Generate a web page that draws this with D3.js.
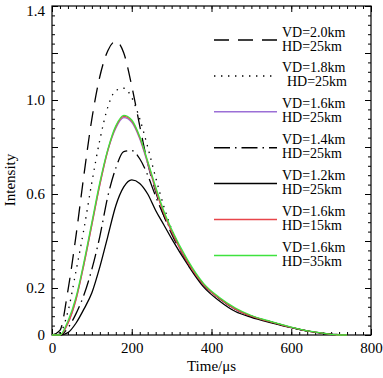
<!DOCTYPE html>
<html>
<head>
<meta charset="utf-8">
<script src="https://cdn.jsdelivr.net/npm/d3@7"></script>
<style>
  body { margin: 0; background: #fff; }
  svg text { font-family: "Liberation Serif", "Times New Roman", Times, serif !important; }
</style>
</head>
<body>
<div id="chart"></div>
<script>
// time samples (us)
var times = [0, 20, 40, 60, 80, 100, 120, 140, 160, 180, 200, 220, 240, 260, 280, 300,
             340, 380, 420, 460, 500, 550, 600, 650, 700, 720, 740];

// intensities
var vd20 = [0, 0.02, 0.19, 0.42, 0.68, 0.92, 1.10, 1.21, 1.25, 1.20, 1.06, 0.89, 0.73, 0.61, 0.51, 0.43,
            0.31, 0.215, 0.155, 0.11, 0.08, 0.055, 0.032, 0.014, 0.003, 0, 0];
var vd18 = [0, 0.01, 0.10, 0.27, 0.45, 0.65, 0.83, 0.97, 1.04, 1.05, 1.01, 0.92, 0.80, 0.67, 0.55, 0.45,
            0.31, 0.215, 0.155, 0.11, 0.08, 0.055, 0.032, 0.014, 0.003, 0, 0];
var vd16hd25 = [0, 0, 0.05, 0.15, 0.30, 0.47, 0.64, 0.785, 0.88, 0.925, 0.905, 0.835, 0.73, 0.62, 0.52, 0.44,
                0.31, 0.215, 0.155, 0.11, 0.08, 0.055, 0.032, 0.014, 0.003, 0, 0];
var vd14 = [0, 0, 0.03, 0.09, 0.17, 0.28, 0.42, 0.59, 0.71, 0.78, 0.785, 0.75, 0.68, 0.59, 0.51, 0.44,
            0.31, 0.215, 0.155, 0.11, 0.08, 0.055, 0.032, 0.014, 0.003, 0, 0];
var vd12 = [0, 0, 0.01, 0.05, 0.11, 0.18, 0.29, 0.42, 0.55, 0.63, 0.66, 0.645, 0.60, 0.53, 0.47, 0.41,
            0.30, 0.205, 0.145, 0.10, 0.075, 0.052, 0.031, 0.014, 0.004, 0.002, 0];
var vd16hd15 = [0, 0, 0.05, 0.15, 0.30, 0.47, 0.64, 0.785, 0.885, 0.93, 0.91, 0.84, 0.735, 0.62, 0.52, 0.44,
                0.31, 0.215, 0.155, 0.11, 0.08, 0.055, 0.032, 0.014, 0.003, 0, 0];
var vd16hd35 = [0, 0, 0.06, 0.16, 0.31, 0.48, 0.65, 0.79, 0.89, 0.935, 0.915, 0.845, 0.74, 0.63, 0.53, 0.45,
                0.32, 0.22, 0.16, 0.115, 0.083, 0.057, 0.034, 0.015, 0.003, 0, 0];

var seriesVD = ["VD=2.0km", "VD=1.8km", "VD=1.6km", "VD=1.4km", "VD=1.2km", "VD=1.6km", "VD=1.6km"];
var seriesHD = ["HD=25km", "HD=25km", "HD=25km", "HD=25km", "HD=25km", "HD=15km", "HD=35km"];
var seriesVals = [vd20, vd18, vd16hd25, vd14, vd12, vd16hd15, vd16hd35];

var xTicks = [0, 200, 400, 600, 800];
var yTicks = [0, 0.2, 0.4, 0.6, 0.8, 1.0, 1.2, 1.4];
var yTickLabels = ["0", "0.2", "", "0.6", "", "1.0", "", "1.4"];

var styles = [
  {color: "#000", dash: "15,9"},
  {color: "#000", dash: "1.4,5.6"},
  {color: "#9b6fd6", dash: null},
  {color: "#000", dash: "16,5,1.5,5"},
  {color: "#000", dash: null},
  {color: "#e8454a", dash: null},
  {color: "#3fe23f", dash: null}
];

var FONT = "'Liberation Serif', 'Times New Roman', serif";
var W = 383, H = 378;
var margin = {top: 6, right: 12, bottom: 43, left: 52},
    width = W - margin.left - margin.right,
    height = H - margin.top - margin.bottom;

var svg = d3.select("#chart").append("svg")
    .attr("width", W).attr("height", H)
    .attr("font-family", FONT)
  .append("g")
    .attr("transform", "translate(" + margin.left + "," + margin.top + ")");

var x = d3.scaleLinear().domain([0, 800]).range([0, width]);
var y = d3.scaleLinear().domain([0, 1.4]).range([height, 0]);

var minorX = d3.range(0, 801, 20), minorY = d3.range(0, 1.4001, 0.04);

function styleAxis(g) {
  g.attr("font-family", FONT);
  g.select(".domain").remove();
  g.selectAll("line").attr("stroke", "#000").attr("stroke-width", 1);
  g.selectAll("text").attr("font-size", "15px").attr("fill", "#000");
}

// minor ticks, all four sides
svg.append("g").attr("transform", "translate(0," + height + ")")
  .call(d3.axisBottom(x).tickValues(minorX).tickSize(-3).tickFormat("")).call(styleAxis);
svg.append("g")
  .call(d3.axisTop(x).tickValues(minorX).tickSize(-3).tickFormat("")).call(styleAxis);
svg.append("g")
  .call(d3.axisLeft(y).tickValues(minorY).tickSize(-3).tickFormat("")).call(styleAxis);
svg.append("g").attr("transform", "translate(" + width + ",0)")
  .call(d3.axisRight(y).tickValues(minorY).tickSize(-3).tickFormat("")).call(styleAxis);

// major ticks
svg.append("g").attr("transform", "translate(0," + height + ")")
  .call(d3.axisBottom(x).tickValues(xTicks).tickSize(-6).tickPadding(7).tickFormat(d3.format("d")))
  .call(styleAxis);
svg.append("g")
  .call(d3.axisTop(x).tickValues(xTicks).tickSize(-6).tickFormat("")).call(styleAxis);
var yAxis = svg.append("g")
  .call(d3.axisLeft(y).tickValues(yTicks).tickSize(-6).tickPadding(7)
    .tickFormat(function(d, i) { return yTickLabels[i]; }))
  .call(styleAxis);
// top label sits a little lower so it stays inside the picture
yAxis.selectAll("text").filter(function(d) { return d > 1.39; }).attr("dy", "0.6em");
svg.append("g").attr("transform", "translate(" + width + ",0)")
  .call(d3.axisRight(y).tickValues(yTicks).tickSize(-6).tickFormat("")).call(styleAxis);

// frame
svg.append("rect").attr("width", width).attr("height", height)
  .attr("fill", "none").attr("stroke", "#000").attr("stroke-width", 1.2);

// curves
var line = d3.line()
  .x(function(d, i) { return x(times[i]); })
  .y(function(d) { return y(d); })
  .curve(d3.curveMonotoneX);

svg.selectAll(".curve")
  .data(seriesVals)
  .enter()
  .append("path")
    .attr("class", "curve")
    .attr("d", function(d) { return line(d); })
    .attr("fill", "none")
    .attr("stroke", function(d, i) { return styles[i].color; })
    .attr("stroke-width", 1.3)
    .attr("stroke-dasharray", function(d, i) { return styles[i].dash; });

// legend
var leg = svg.append("g").attr("transform", "translate(" + (214 - margin.left) + "," + (40 - margin.top) + ")");
var rows = leg.selectAll("g").data(seriesVD).enter().append("g")
  .attr("transform", function(d, i) { return "translate(0," + (i * 35.9) + ")"; });
rows.append("line")
  .attr("x1", 0).attr("x2", 63).attr("y1", 0).attr("y2", 0)
  .attr("stroke", function(d, i) { return styles[i].color; })
  .attr("stroke-width", 1.5)
  .attr("stroke-dasharray", function(d, i) { return styles[i].dash; });
rows.append("text").attr("x", 68).attr("y", -3.5).attr("font-size", "14px")
  .text(function(d) { return d; });
rows.append("text").attr("x", function(d, i) { return i == 1 ? 73 : 68; }).attr("y", 10.5).attr("font-size", "14px")
  .text(function(d, i) { return seriesHD[i]; });

// axis titles
svg.append("text")
  .attr("transform", "translate(" + (15 - margin.left) + "," + (180 - margin.top) + ") rotate(-90)")
  .attr("text-anchor", "middle").attr("font-size", "15px")
  .text("Intensity");
svg.append("text")
  .attr("x", x(400)).attr("y", 371 - margin.top)
  .attr("text-anchor", "middle").attr("font-size", "15px")
  .text("Time/μs");
</script>
</body>
</html>
